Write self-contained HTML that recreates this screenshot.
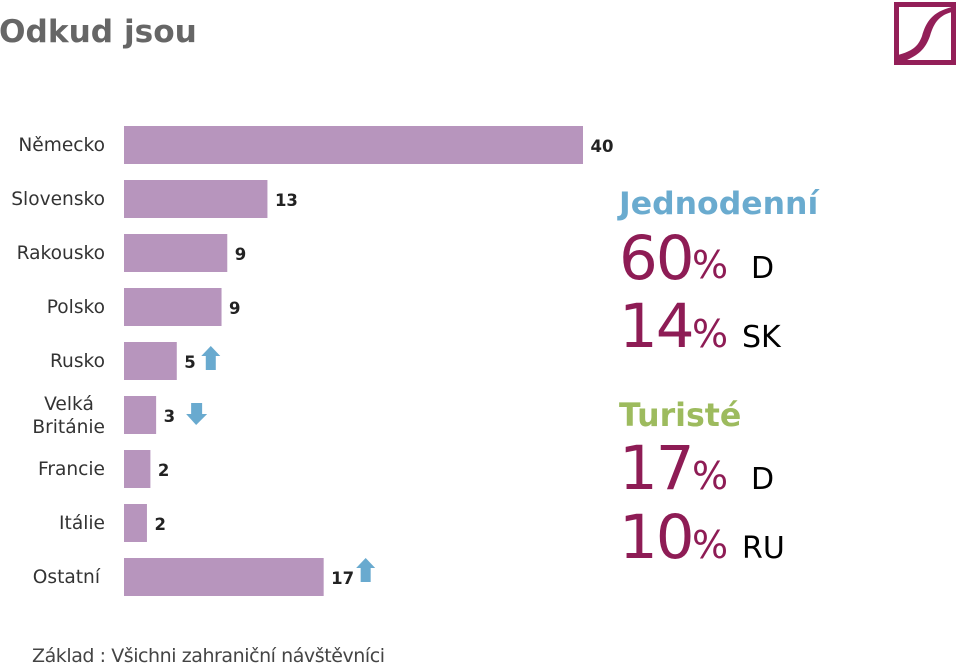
<!DOCTYPE html>
<html lang="cs">
<head>
<meta charset="utf-8">
<title>Odkud jsou</title>
<style>
html,body{margin:0;padding:0;background:#fff;width:959px;height:663px;overflow:hidden}
svg{display:block}
text{font-family:"DejaVu Sans","Liberation Sans",sans-serif}
</style>
</head>
<body>
<svg id="chart" xmlns="http://www.w3.org/2000/svg" width="959" height="663" viewBox="0 0 959 663">
  <text x="-1" y="42" font-size="31.2" font-weight="700" fill="#666666">Odkud jsou</text>
  <g>
    <rect x="896.5" y="4.5" width="57" height="58" fill="none" stroke="#931f58" stroke-width="5"/>
    <path d="M898 55 C912 51 918 47 922 36 C926 22 932 12 952 7 L952 12 C940 15 934 22 930 36 C925 50 918 55 905 61 L898 62 Z" fill="#931f58"/>
  </g>
  <g id="bars"></g>
  <g>
    <text x="619" y="214" font-size="31.5" font-weight="700" fill="#6aabcf">Jednodenní</text>
    <text x="619" y="279" font-size="61" letter-spacing="-2" fill="#8e1c55">60</text>
    <text x="692" y="278" font-size="38" fill="#8e1c55">%</text>
    <text x="751" y="278" font-size="30" fill="#000">D</text>
    <text x="619" y="347" font-size="61" letter-spacing="-2" fill="#8e1c55">14</text>
    <text x="692" y="347" font-size="38" fill="#8e1c55">%</text>
    <text x="742" y="347" font-size="30" fill="#000">SK</text>
  </g>
  <g>
    <text x="619" y="426" font-size="31.6" font-weight="700" fill="#9dbb5e">Turisté</text>
    <text x="619" y="489" font-size="61" letter-spacing="-2" fill="#8e1c55">17</text>
    <text x="692" y="489" font-size="38" fill="#8e1c55">%</text>
    <text x="751" y="489" font-size="30" fill="#000">D</text>
    <text x="619" y="558" font-size="61" letter-spacing="-2" fill="#8e1c55">10</text>
    <text x="692" y="558" font-size="38" fill="#8e1c55">%</text>
    <text x="742" y="558" font-size="30" fill="#000">RU</text>
  </g>
  <text x="32" y="662" font-size="19" textLength="353" lengthAdjust="spacing" fill="#444444">Základ : Všichni zahraniční návštěvníci</text>
</svg>
<script>
const categories = ["Německo", "Slovensko", "Rakousko", "Polsko", "Rusko", "Velká Británie", "Francie", "Itálie", "Ostatní"];
const values = [40, 12.5, 9, 8.5, 4.6, 2.8, 2.3, 2, 17.4];
const trends = ["", "", "", "", "up", "down", "", "", "up"];

const NS = "http://www.w3.org/2000/svg";
const group = document.getElementById("bars");
const x0 = 124;
const unit = 11.475;
const firstTop = 126;
const step = 54;
const barHeight = 38;
const labelSize = 18.6;
const xScale = function (v) { return x0 + v * unit; };
const yScale = function (i) { return firstTop + i * step; };

function makeText(x, y, size, fill, anchor, content) {
  const t = document.createElementNS(NS, "text");
  t.setAttribute("x", x);
  t.setAttribute("y", y);
  t.setAttribute("font-size", size);
  t.setAttribute("fill", fill);
  t.setAttribute("text-anchor", anchor);
  t.textContent = content;
  return t;
}

categories.forEach(function (name, i) {
  const top = yScale(i);
  const end = xScale(values[i]);

  const bar = document.createElementNS(NS, "rect");
  
  
  bar.setAttribute("x", x0);
  bar.setAttribute("y", top);
  bar.setAttribute("width", end - x0);
  bar.setAttribute("height", barHeight);
  bar.setAttribute("fill", "#b795bd");
  group.appendChild(bar);

  if (name.indexOf(" ") > -1) {
    const parts = name.split(" ");
    const first = makeText(69, top + 14, labelSize, "#333333", "middle", parts[0]);
    
    
    group.appendChild(first);
    const second = makeText(105, top + 37, labelSize, "#333333", "end", parts[1]);
    
    
    group.appendChild(second);
  } else {
    const labelX = i === categories.length - 1 ? 100 : 105;
    const label = makeText(labelX, top + 25, labelSize, "#333333", "end", name);
    
    
    group.appendChild(label);
  }

  const printed = String(Math.round(values[i]));
  const valueLabel = makeText(end + 7.5, top + 26, 16.5, "#222222", "start", printed);
  valueLabel.setAttribute("font-weight", "700");
  
  
  group.appendChild(valueLabel);

  if (trends[i]) {
    const arrow = document.createElementNS(NS, "path");
    
    
    let d;
    if (trends[i] === "up") {
      const ax = end + (printed.length > 1 ? 42 : 34);
      const ay = printed.length > 1 ? top : top + 4;
      d = "M" + ax + " " + ay + " l9.5 10 h-4.5 v14 h-10 v-14 h-4.5 z";
    } else {
      const ax = end + 40;
      d = "M" + ax + " " + (top + 29) + " l-10 -11 h5 v-11 h11 v11 h5 z";
    }
    arrow.setAttribute("d", d);
    arrow.setAttribute("fill", "#69aacf");
    group.appendChild(arrow);
  }
});
</script>
</body>
</html>
